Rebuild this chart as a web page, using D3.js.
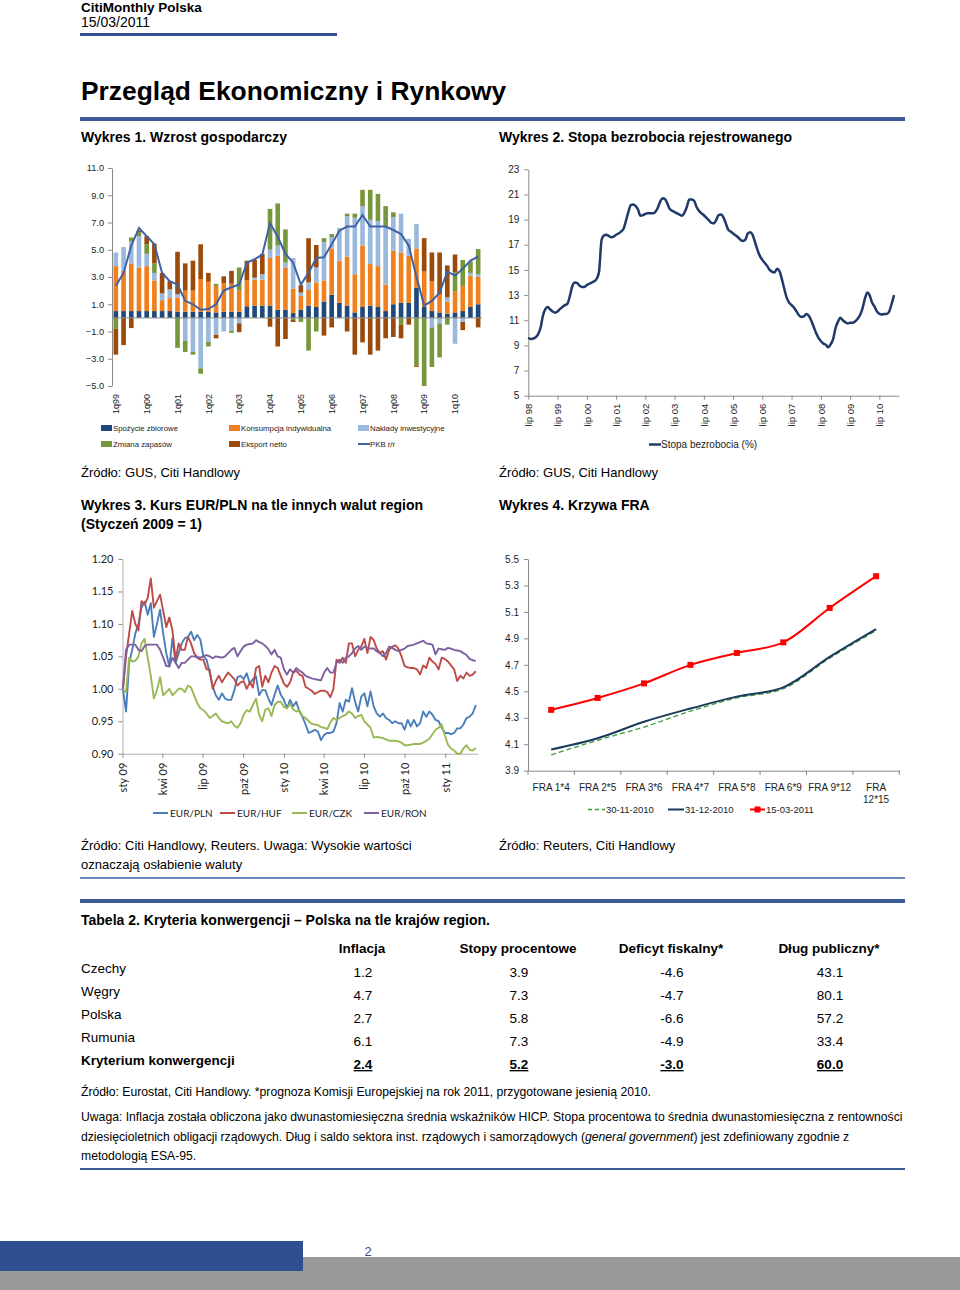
<!DOCTYPE html>
<html><head><meta charset="utf-8">
<script src="https://cdn.jsdelivr.net/npm/d3@7"></script>
<style>
body{margin:0;background:#fff;}
svg{display:block;font-family:Arial,"Liberation Sans",sans-serif;}
</style></head><body>
<svg id="page" width="960" height="1290"></svg>
<script>
// ================= DATA =================
// Chart 1: GDP growth contributions (quarterly 1q99 - 4q10)
const years1 = ["99","00","01","02","03","04","05","06","07","08","09","10"];
const quarters = [];
years1.forEach(y => { for (let q = 1; q <= 4; q++) quarters.push(q + "q" + y); });
const spozycie   = [0.5,0.5,0.5,0.5,0.5,0.5,0.5,0.5,0.45,0.45,0.45,0.45,0.45,0.4,0.45,0.45,0.45,0.85,0.9,0.9,0.9,0.6,0.6,0.35,0.6,0.9,0.8,1.2,1.7,1.1,0.9,0.4,0.8,0.9,0.8,0.5,1.0,1.1,1.1,2.2,0.8,0.5,0.4,0.3,0.4,0.5,0.8,1.0];
const konsumpcja = [3.3,2.95,3.5,3.2,3.3,2.25,0.8,0.95,1.05,1.55,1.55,2.4,2.2,1.95,2.1,2.05,1.55,1.9,1.9,1.9,3.5,3.95,3.1,1.8,1.0,1.15,1.8,1.55,3.4,3.1,3.6,2.8,4.5,3.05,3.0,1.95,3.95,3.7,3.45,2.9,2.6,2.2,1.35,0.9,1.55,1.85,2.3,2.0];
const naklady    = [1.0,1.75,1.6,2.3,0.9,0.55,0.5,0.65,0.25,-1.7,-2.5,-3.7,-1.75,-1.25,-1.0,-0.95,-0.4,0,0.15,0.4,0.6,0.75,0.35,2.25,0.25,0.55,1.1,2.8,0.8,2.4,2.95,4.15,2.9,3.25,3.3,4.3,2.45,2.85,1.25,1.8,0,-0.7,-0.4,0.3,-1.9,-0.3,0.2,0.2];
const zapasy     = [-0.8,0,0.3,0.3,0.7,0.7,0,0,-2.2,-0.8,-0.2,-0.4,-0.35,0.15,0,-0.15,1.7,0,0,0,3.0,3.1,2.45,-0.15,-0.3,-2.4,-1.0,0.3,0.25,0,0.2,0.3,1.2,2.2,2.0,1.45,0.35,-0.5,0,-3.5,-5.0,-2.9,-2.5,-0.5,1.4,1.9,0.85,1.85];
const eksport    = [-1.9,-2.0,-0.75,0.1,0.6,1.45,1.5,0.6,3.1,2.0,2.2,2.55,0.65,-0.25,0.5,0.95,-0.65,1.45,1.3,1.5,-0.65,-2.1,-1.55,-0.15,0.55,3.25,1.65,-1.3,-0.7,0,-1.0,-2.7,-1.8,-2.7,-2.4,-1.5,-1.4,-1.0,-0.5,-0.1,2.45,2.1,3.05,2.35,1.3,-0.6,0,-0.7];
const pkb        = [2.35,3.3,5.3,6.6,6.0,5.4,3.3,2.7,2.45,1.25,1.0,0.6,0.65,1.0,2.0,2.25,2.45,4.05,4.3,4.65,6.95,5.95,4.7,4.05,2.45,3.3,4.4,4.45,5.4,6.4,6.7,6.7,7.55,6.7,6.7,6.7,6.45,6.15,5.3,3.0,0.9,1.25,1.85,3.4,3.1,3.6,4.2,4.5];
const yTicks1 = [-5,-3,-1,1,3,5,7,9,11];
const legend1 = ["Spożycie zbiorowe","Konsumpcja indywidualna","Nakłady inwestycyjne","Zmiana zapasów","Eksport netto","PKB r/r"];

// Chart 2: registered unemployment rate, monthly Jul 1998 - Jan 2011
const unempStart = "1998-07-01";
const unemployment = [9.62,9.5,9.55,9.65,9.9,10.4, 11.4,11.9,12.05,11.85,11.7,11.6, 11.7,11.9,12.05,12.2,12.3,12.9,
 13.7,14.0,13.95,13.75,13.65,13.65, 13.8,13.9,14.0,14.1,14.3,14.9, 17.4,17.75,17.8,17.7,17.6,17.65,
 17.8,17.9,18.05,18.25,18.9,19.6, 20.15,20.2,20.1,19.8,19.3,19.35, 19.45,19.5,19.5,19.5,19.6,19.9,
 20.4,20.7,20.65,20.3,19.85,19.7, 19.6,19.5,19.4,19.3,19.55,20.0, 20.6,20.6,20.5,20.0,19.7,19.5,
 19.35,19.15,18.95,18.75,18.7,18.95, 19.35,19.4,19.2,18.7,18.2,18.05, 17.9,17.75,17.6,17.4,17.3,17.4,
 17.9,18.0,17.8,17.2,16.6,16.1, 15.8,15.55,15.3,15.0,14.85,14.8, 15.1,14.9,14.3,13.5,12.8,12.4,
 12.2,12.0,11.7,11.4,11.25,11.3, 11.5,11.35,11.0,10.5,10.0,9.6, 9.35,9.15,9.05,8.85,9.1,9.5,
 10.4,10.9,11.2,11.0,10.85,10.75, 10.8,10.8,10.9,11.1,11.4,11.9, 12.7,13.2,13.0,12.4,12.1,11.7,
 11.5,11.45,11.5,11.5,11.7,12.3, 13.0];
const xTickLabels2 = ["lip 98","lip 99","lip 00","lip 01","lip 02","lip 03","lip 04","lip 05","lip 06","lip 07","lip 08","lip 09","lip 10"];
const yTicks2 = [5,7,9,11,13,15,17,19,21,23];

// Chart 3: currencies vs EUR (Jan 2009 = 1), weekly
const fxStart = "2009-01-02", fxStepDays = 7;
const eurPln = [1.0,0.965,1.04,1.06,1.085,1.10,1.125,1.134,1.114,1.132,1.08,1.10,1.122,1.085,1.055,1.034,1.078,1.04,1.055,1.07,
 1.078,1.08,1.088,1.075,1.083,1.076,1.05,1.045,1.025,1.004,0.99,0.983,0.993,0.985,0.983,0.983,0.998,1.018,1.02,1.015,
 1.024,1.008,1.015,1.019,0.99,0.998,0.998,0.985,0.975,0.991,1.005,0.991,0.983,0.97,0.983,0.973,0.98,0.965,0.957,0.945,
 0.932,0.934,0.937,0.934,0.921,0.929,0.932,0.932,0.934,0.947,0.978,0.965,0.983,0.98,1.001,0.98,0.965,0.988,0.993,0.973,
 0.996,0.973,0.962,0.957,0.962,0.955,0.952,0.947,0.95,0.947,0.947,0.937,0.952,0.942,0.952,0.942,0.947,0.965,0.957,0.965,
 0.96,0.952,0.95,0.94,0.932,0.932,0.93,0.932,0.939,0.939,0.945,0.955,0.957,0.962,0.975];
const eurHuf = [1.0,1.05,1.085,1.12,1.10,1.09,1.135,1.13,1.14,1.17,1.125,1.135,1.145,1.12,1.095,1.11,1.09,1.045,1.07,1.06,
 1.06,1.08,1.07,1.055,1.048,1.045,1.045,1.03,1.03,1.0,1.012,1.02,1.01,1.018,1.025,1.02,1.015,1.005,1.01,1.012,
 1.0,1.01,1.002,1.032,1.035,1.003,1.02,1.01,1.025,1.035,1.032,1.02,1.008,1.003,1.01,1.025,1.028,1.022,1.02,1.003,
 1.0,0.997,0.992,0.995,0.997,0.997,0.995,0.987,1.0,1.045,1.04,1.048,1.04,1.07,1.07,1.05,1.06,1.065,1.077,1.055,
 1.08,1.075,1.062,1.055,1.058,1.045,1.06,1.065,1.067,1.062,1.05,1.035,1.033,1.032,1.032,1.03,1.022,1.036,1.032,1.048,
 1.042,1.038,1.03,1.048,1.046,1.042,1.036,1.03,1.012,1.02,1.016,1.025,1.02,1.022,1.027];
const eurCzk = [1.0,0.995,1.048,1.042,1.043,1.05,1.07,1.077,1.048,1.02,0.985,0.998,1.018,0.99,0.995,1.0,0.99,0.995,1.0,1.0,
 0.995,1.005,1.002,0.99,0.978,0.97,0.967,0.962,0.955,0.958,0.962,0.955,0.95,0.948,0.947,0.95,0.943,0.94,0.947,0.96,
 0.967,0.965,0.975,0.985,0.96,0.95,0.968,0.97,0.958,0.975,0.98,0.98,0.972,0.97,0.977,0.968,0.965,0.967,0.958,0.955,
 0.95,0.946,0.945,0.944,0.941,0.94,0.938,0.948,0.955,0.952,0.955,0.958,0.96,0.965,0.962,0.955,0.958,0.96,0.95,0.945,
 0.94,0.925,0.926,0.925,0.924,0.922,0.92,0.92,0.92,0.919,0.917,0.913,0.913,0.914,0.915,0.915,0.915,0.917,0.92,0.923,
 0.93,0.937,0.94,0.945,0.928,0.914,0.908,0.905,0.9,0.9,0.908,0.913,0.906,0.905,0.909];
const eurRon = [1.0,1.06,1.068,1.068,1.068,1.06,1.058,1.066,1.068,1.068,1.068,1.068,1.06,1.048,1.035,1.035,1.048,1.04,1.032,1.04,
 1.04,1.045,1.05,1.05,1.049,1.048,1.05,1.052,1.05,1.047,1.05,1.049,1.048,1.05,1.055,1.06,1.063,1.05,1.058,1.065,
 1.068,1.069,1.07,1.075,1.072,1.07,1.066,1.061,1.053,1.06,1.05,1.048,1.03,1.022,1.03,1.025,1.032,1.028,1.025,1.02,
 1.018,1.016,1.015,1.014,1.013,1.025,1.032,1.025,1.025,1.04,1.045,1.04,1.048,1.05,1.055,1.062,1.066,1.06,1.065,1.063,
 1.062,1.062,1.058,1.055,1.05,1.055,1.065,1.063,1.06,1.058,1.06,1.062,1.066,1.067,1.068,1.07,1.072,1.074,1.07,1.069,
 1.068,1.053,1.062,1.061,1.06,1.063,1.062,1.06,1.059,1.058,1.055,1.052,1.046,1.044,1.043];
const fxNames = ["EUR/PLN","EUR/HUF","EUR/CZK","EUR/RON"];
const xTickLabels3 = ["sty 09","kwi 09","lip 09","paź 09","sty 10","kwi 10","lip 10","paź 10","sty 11"];
const yTicks3 = [0.90,0.95,1.00,1.05,1.10,1.15,1.20];

// Chart 4: FRA curve
const fraCats = ["FRA 1*4","FRA 2*5","FRA 3*6","FRA 4*7","FRA 5*8","FRA 6*9","FRA 9*12","FRA 12*15"];
const fra301110 = [4.02,4.13,4.23,4.35,4.45,4.52,4.75,4.96];
const fra311210 = [4.06,4.145,4.27,4.37,4.46,4.53,4.76,4.97];
const fra150311 = [4.36,4.45,4.56,4.70,4.79,4.87,5.13,5.37];
const fraNames = ["30-11-2010","31-12-2010","15-03-2011"];
const yTicks4 = [3.9,4.1,4.3,4.5,4.7,4.9,5.1,5.3,5.5];

// Table 2
const tabCols = ["Inflacja","Stopy procentowe","Deficyt fiskalny*","Dług publiczny*"];
const tabRows = ["Czechy","Węgry","Polska","Rumunia","Kryterium konwergencji"];
const inflacja = ["1.2","4.7","2.7","6.1","2.4"];
const stopy    = ["3.9","7.3","5.8","7.3","5.2"];
const deficyt  = ["-4.6","-4.7","-6.6","-4.9","-3.0"];
const dlug     = ["43.1","80.1","57.2","33.4","60.0"];

// ================= DRAW =================
const svg = d3.select("#page");
const BLUE = "#34508f";
const AX = "#8a8a8a";

function text(x, y, s, o = {}) {
  const t = svg.append("text").attr("x", x).attr("y", y).text(s)
    .attr("font-size", o.size || 13)
    .attr("fill", o.fill || "#000")
    .attr("text-anchor", o.anchor || "start");
  if (o.bold) t.attr("font-weight", "bold");
  if (o.family) t.attr("font-family", o.family);
  if (o.deco) t.attr("text-decoration", o.deco);
  return t;
}
function styleAxis(g, size, family, fill) {
  g.select(".domain").attr("stroke", AX);
  g.selectAll(".tick line").attr("stroke", AX);
  g.selectAll(".tick text").attr("font-size", size).attr("fill", fill || "#222")
    .attr("font-family", family || "Arial, 'Liberation Sans', sans-serif");
}

// ---- header ----
text(81, 12, "CitiMonthly Polska", {size: 13.5, bold: true});
text(81, 27, "15/03/2011", {size: 14});
svg.append("rect").attr("x", 80).attr("y", 33).attr("width", 257).attr("height", 3).attr("fill", BLUE);
text(81, 100, "Przegląd Ekonomiczny i Rynkowy", {size: 26.4, bold: true});
svg.append("rect").attr("x", 80).attr("y", 117).attr("width", 825).attr("height", 4).attr("fill", "#3c5a96");
text(81, 142, "Wykres 1. Wzrost gospodarczy", {size: 14, bold: true});
text(499, 142, "Wykres 2. Stopa bezrobocia rejestrowanego", {size: 14, bold: true});

// ---- Chart 1 ----
{
  const keys = ["spozycie","konsumpcja","naklady","zapasy","eksport"];
  const colors = ["#1f497d","#f07f1e","#9ab9dd","#77973d","#9a4a0b"];
  const rows = quarters.map((q, i) => ({q, spozycie: spozycie[i], konsumpcja: konsumpcja[i], naklady: naklady[i], zapasy: zapasy[i], eksport: eksport[i]}));
  const series = d3.stack().keys(keys).offset(d3.stackOffsetDiverging)(rows);
  const x = d3.scaleBand().domain(quarters).range([112, 482]).paddingInner(0.4).paddingOuter(0.2);
  const y = d3.scaleLinear().domain([-5, 11]).range([386, 168]);
  const g = svg.append("g");
  g.selectAll("g.s").data(series).join("g").attr("fill", (d, i) => colors[i])
    .selectAll("rect").data(d => d).join("rect")
    .attr("x", d => x(d.data.q)).attr("width", x.bandwidth())
    .attr("y", d => y(Math.max(d[0], d[1]))).attr("height", d => Math.abs(y(d[0]) - y(d[1])));
  const ax = g.append("g").attr("transform", "translate(112,0)")
    .call(d3.axisLeft(y).tickValues(yTicks1).tickFormat(d3.format(".1f")).tickSize(4).tickSizeOuter(0).tickPadding(4));
  styleAxis(ax, 9.2);
  g.append("line").attr("x1", 112).attr("x2", 482).attr("y1", y(0)).attr("y2", y(0)).attr("stroke", AX);
  g.append("path").datum(pkb).attr("fill", "none").attr("stroke", "#3f62a5").attr("stroke-width", 2)
    .attr("d", d3.line().x((d, i) => x(quarters[i]) + x.bandwidth() / 2).y(d => y(d)));
  quarters.forEach(q => {
    if (q[0] !== "1") return;
    g.append("text").attr("transform", `translate(${x(q) + x.bandwidth() / 2},394) rotate(-90)`)
      .attr("dy", "0.35em").attr("text-anchor", "end").attr("font-size", 9).attr("fill", "#222").text(q);
  });
  const lx = [101, 229, 358], ly = [428, 444];
  legend1.forEach((name, i) => {
    const cx = lx[i % 3], cy = ly[Math.floor(i / 3)];
    if (i < 5) g.append("rect").attr("x", cx).attr("y", cy - 3).attr("width", 11).attr("height", 6).attr("fill", colors[i]);
    else g.append("line").attr("x1", cx).attr("x2", cx + 12).attr("y1", cy).attr("y2", cy).attr("stroke", "#3f62a5").attr("stroke-width", 2);
    g.append("text").attr("x", cx + 12).attr("y", cy + 2.7).attr("font-size", 7.8).attr("fill", "#222").text(name);
  });
}

// ---- Chart 2 ----
{
  const t0 = d3.isoParse(unempStart);
  const dates = unemployment.map((v, i) => d3.timeMonth.offset(t0, i));
  const x = d3.scaleTime().domain([t0, new Date(2011, 2, 1)]).range([528.3, 898.8]);
  const y = d3.scaleLinear().domain([5, 23]).range([395.7, 169.3]);
  const g = svg.append("g");
  const ay = g.append("g").attr("transform", "translate(528.3,0)")
    .call(d3.axisLeft(y).tickValues(yTicks2).tickSize(4).tickSizeOuter(0).tickPadding(5));
  styleAxis(ay, 10);
  const tickDates = xTickLabels2.map((s, i) => new Date(1998 + i, 6, 1));
  const axx = g.append("g").attr("transform", "translate(0,395.7)")
    .call(d3.axisBottom(x).tickValues(tickDates).tickFormat((d, i) => xTickLabels2[i]).tickSize(4).tickSizeOuter(0));
  styleAxis(axx, 9.5);
  axx.selectAll(".tick text").attr("transform", "translate(0,8) rotate(-90)").attr("text-anchor", "end").attr("x", 0).attr("y", 0).attr("dy", "0.35em");
  g.append("path").datum(unemployment).attr("fill", "none").attr("stroke", "#1f3a68").attr("stroke-width", 2.5)
    .attr("stroke-linejoin", "round")
    .attr("d", d3.line().x((d, i) => x(dates[i])).y(d => y(d)).curve(d3.curveMonotoneX));
  g.append("line").attr("x1", 649).attr("x2", 661).attr("y1", 444.5).attr("y2", 444.5).attr("stroke", "#1f3a68").attr("stroke-width", 2.5);
  g.append("text").attr("x", 661).attr("y", 448).attr("font-size", 10).attr("fill", "#222").text("Stopa bezrobocia (%)");
}

// sources 1/2
text(81, 477, "Źródło: GUS, Citi Handlowy", {size: 13});
text(499, 477, "Źródło: GUS, Citi Handlowy", {size: 13});
text(81, 510, "Wykres 3. Kurs EUR/PLN na tle innych walut region", {size: 14, bold: true});
text(81, 529, "(Styczeń 2009 = 1)", {size: 14, bold: true});
text(499, 510, "Wykres 4. Krzywa FRA", {size: 14, bold: true});

// ---- Chart 3 ----
{
  const FONT = "Lato, 'Open Sans', sans-serif";
  const t0 = d3.isoParse(fxStart);
  const x = d3.scaleTime().domain([new Date(2009, 0, 1), new Date(2011, 2, 16)]).range([122.5, 478]);
  const y = d3.scaleLinear().domain([0.9, 1.2]).range([753.7, 559]);
  const g = svg.append("g");
  const ay = g.append("g").attr("transform", "translate(122.5,0)")
    .call(d3.axisLeft(y).tickValues(yTicks3).tickFormat(d3.format(".2f")).tickSize(4).tickSizeOuter(0).tickPadding(5));
  styleAxis(ay, 11, FONT);
  ay.select(".domain").attr("stroke", "#b0b0b0");
  const tickDates = xTickLabels3.map((s, i) => new Date(2009, i * 3, 1));
  const axx = g.append("g").attr("transform", "translate(0,753.7)")
    .call(d3.axisBottom(x).tickValues(tickDates).tickFormat((d, i) => xTickLabels3[i]).tickSize(4).tickSizeOuter(0));
  styleAxis(axx, 11, FONT);
  axx.select(".domain").attr("stroke", "#b0b0b0");
  axx.selectAll(".tick text").attr("transform", "translate(0,9) rotate(-90)").attr("text-anchor", "end").attr("x", 0).attr("y", 0).attr("dy", "0.35em");
  const fxSeries = [eurPln, eurHuf, eurCzk, eurRon];
  const fxColors = ["#4a7ebb", "#be4b48", "#98b954", "#7d60a0"];
  const line = d3.line().x((d, i) => x(d3.timeDay.offset(t0, i * fxStepDays))).y(d => y(d));
  fxSeries.forEach((s, k) => {
    g.append("path").datum(s).attr("fill", "none").attr("stroke", fxColors[k]).attr("stroke-width", 1.9)
      .attr("stroke-linejoin", "round").attr("d", line);
  });
  const lx = [153, 220, 292, 364];
  fxNames.forEach((n, k) => {
    g.append("line").attr("x1", lx[k]).attr("x2", lx[k] + 15).attr("y1", 813).attr("y2", 813).attr("stroke", fxColors[k]).attr("stroke-width", 2);
    g.append("text").attr("x", lx[k] + 17).attr("y", 816.5).attr("font-size", 10).attr("font-family", FONT).attr("fill", "#222").text(n);
  });
}

// ---- Chart 4 ----
{
  const x = d3.scaleBand().domain(fraCats).range([528, 899.3]);
  const y = d3.scaleLinear().domain([3.9, 5.5]).range([770.7, 559]);
  const g = svg.append("g");
  const ay = g.append("g").attr("transform", "translate(528,0)")
    .call(d3.axisLeft(y).tickValues(yTicks4).tickFormat(d3.format(".1f")).tickSize(4).tickSizeOuter(0).tickPadding(5));
  styleAxis(ay, 10);
  const axx = g.append("g").attr("transform", "translate(0,770.7)")
    .call(d3.axisBottom(x).tickSize(0).tickSizeOuter(0).tickFormat(""));
  styleAxis(axx, 10);
  fraCats.concat([null]).forEach((c) => {
    const xx = c ? x(c) : x.range()[1];
    g.append("line").attr("x1", xx).attr("x2", xx).attr("y1", 770.7).attr("y2", 775).attr("stroke", AX);
  });
  fraCats.forEach(c => {
    const cx = x(c) + x.bandwidth() / 2;
    const parts = c === "FRA 12*15" ? ["FRA", "12*15"] : [c];
    parts.forEach((p, j) => g.append("text").attr("x", cx).attr("y", 791 + j * 12).attr("text-anchor", "middle")
      .attr("font-size", 10).attr("fill", "#222").text(p));
  });
  const cxs = fraCats.map(c => x(c) + x.bandwidth() / 2);
  const line = d3.line().x((d, i) => cxs[i]).y(d => y(d)).curve(d3.curveMonotoneX);
  g.append("path").datum(fra301110).attr("fill", "none").attr("stroke", "#3a9a3a").attr("stroke-width", 1.3).attr("stroke-dasharray", "5,3").attr("d", line);
  g.append("path").datum(fra311210).attr("fill", "none").attr("stroke", "#1a3a5c").attr("stroke-width", 2).attr("d", line);
  g.append("path").datum(fra150311).attr("fill", "none").attr("stroke", "#ff0000").attr("stroke-width", 2).attr("d", line);
  g.selectAll("rect.m").data(fra150311).join("rect").attr("x", (d, i) => cxs[i] - 3).attr("y", d => y(d) - 3)
    .attr("width", 6).attr("height", 6).attr("fill", "#ff0000");
  const ly = 809.5;
  g.append("line").attr("x1", 588).attr("x2", 605).attr("y1", ly).attr("y2", ly).attr("stroke", "#3a9a3a").attr("stroke-width", 1.3).attr("stroke-dasharray", "4,3");
  g.append("text").attr("x", 606).attr("y", ly + 3.5).attr("font-size", 9.5).attr("fill", "#222").text(fraNames[0]);
  g.append("line").attr("x1", 668).attr("x2", 684).attr("y1", ly).attr("y2", ly).attr("stroke", "#1a3a5c").attr("stroke-width", 2);
  g.append("text").attr("x", 685).attr("y", ly + 3.5).attr("font-size", 9.5).attr("fill", "#222").text(fraNames[1]);
  g.append("line").attr("x1", 750).attr("x2", 765).attr("y1", ly).attr("y2", ly).attr("stroke", "#ff0000").attr("stroke-width", 2);
  g.append("rect").attr("x", 754.5).attr("y", ly - 3).attr("width", 6).attr("height", 6).attr("fill", "#ff0000");
  g.append("text").attr("x", 766).attr("y", ly + 3.5).attr("font-size", 9.5).attr("fill", "#222").text(fraNames[2]);
}

// sources 3/4
text(81, 850, "Źródło: Citi Handlowy, Reuters. Uwaga: Wysokie wartości", {size: 13});
text(81, 869, "oznaczają osłabienie waluty", {size: 13});
text(499, 850, "Źródło: Reuters, Citi Handlowy", {size: 13});
svg.append("rect").attr("x", 80).attr("y", 877).attr("width", 825).attr("height", 2).attr("fill", "#6f88b8");
svg.append("rect").attr("x", 80).attr("y", 899).attr("width", 825).attr("height", 4).attr("fill", "#3c5a96");

// ---- Table ----
text(81, 925, "Tabela 2. Kryteria konwergencji – Polska na tle krajów region.", {size: 14, bold: true});
const colX = [362, 518, 671, 829];
tabCols.forEach((c, i) => text(colX[i], 953, c, {size: 13.5, bold: true, anchor: "middle"}));
const tabData = [inflacja, stopy, deficyt, dlug];
tabRows.forEach((r, j) => {
  const last = j === tabRows.length - 1;
  text(81, 973 + j * 23, r, {size: 13.5, bold: last});
  tabData.forEach((col, i) => text(colX[i] + 1, 977 + j * 23, col[j], {size: 13.5, bold: last, anchor: "middle", deco: last ? "underline" : null}));
});
text(81, 1096, "Źródło: Eurostat, Citi Handlowy. *prognoza Komisji Europejskiej na rok 2011, przygotowane jesienią 2010.", {size: 12.2});
text(81, 1121, "Uwaga: Inflacja została obliczona jako dwunastomiesięczna średnia wskaźników HICP. Stopa procentowa to średnia dwunastomiesięczna z rentowności", {size: 12.2});
{
  const t = text(81, 1141, "dziesięcioletnich obligacji rządowych. Dług i saldo sektora inst. rządowych i samorządowych (", {size: 12.2});
  t.append("tspan").attr("font-style", "italic").text("general government");
  t.append("tspan").text(") jest zdefiniowany zgodnie z");
}
text(81, 1160, "metodologią ESA-95.", {size: 12.2});
svg.append("rect").attr("x", 80).attr("y", 1168).attr("width", 825).attr("height", 2).attr("fill", "#3c5a96");

// ---- footer ----
svg.append("rect").attr("x", 0).attr("y", 1257).attr("width", 960).attr("height", 33).attr("fill", "#999999");
svg.append("rect").attr("x", 0).attr("y", 1241).attr("width", 303).attr("height", 30).attr("fill", "#2f4f8f");
text(368, 1256, "2", {size: 13, fill: "#3a4f7a", anchor: "middle"});
</script>
</body></html>
